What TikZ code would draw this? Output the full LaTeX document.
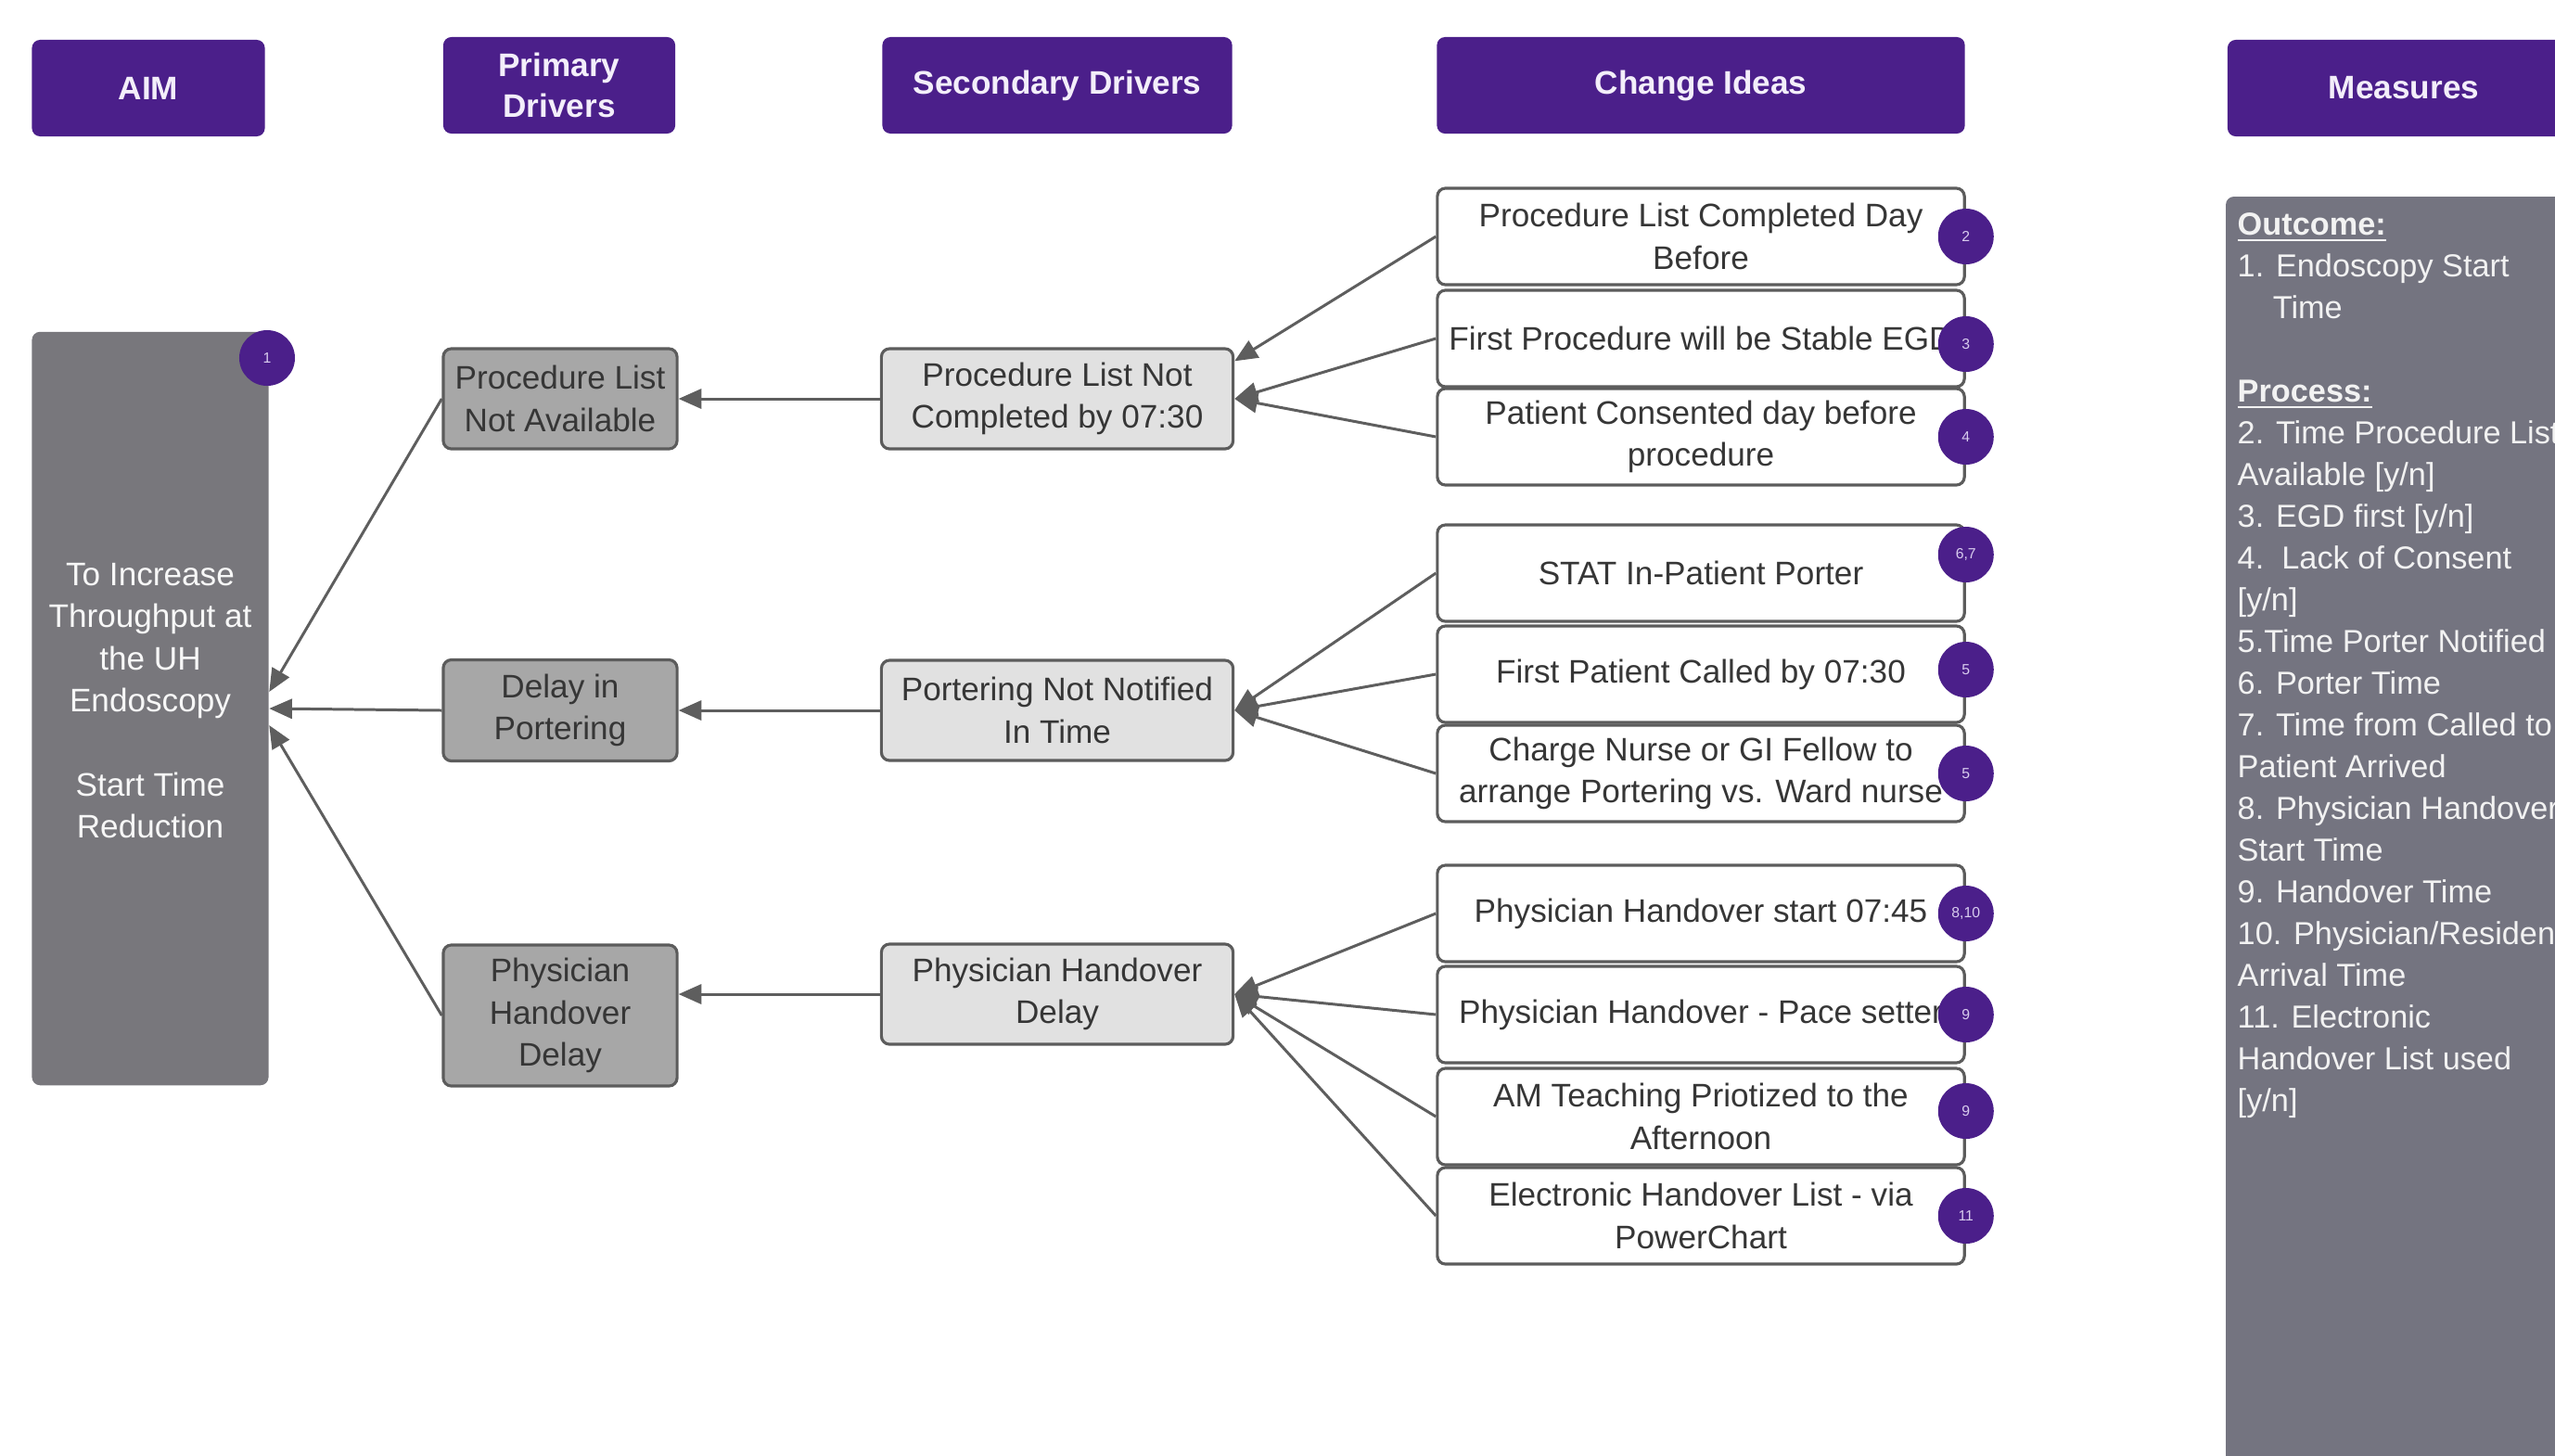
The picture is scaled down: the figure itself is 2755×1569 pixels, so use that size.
\documentclass[tikz,border=0pt]{standalone}
\usepackage{fontspec}
\setmainfont{Liberation Sans}
\usetikzlibrary{arrows.meta,calc}

\definecolor{drvpurple}{HTML}{4B1F8A}
\definecolor{headtext}{HTML}{F3EEFA}
\definecolor{aimgray}{HTML}{78777C}
\definecolor{primgray}{HTML}{A7A7A7}
\definecolor{secgray}{HTML}{E1E1E1}
\definecolor{edgegray}{HTML}{5C5C5C}
\definecolor{linkgray}{HTML}{5E5E5E}
\definecolor{boxtext}{HTML}{363636}
\definecolor{badgetext}{HTML}{D8CCEE}

\begin{document}
\begin{tikzpicture}[x=0.01cm,y=-0.01cm,
  every node/.style={font=\fontsize{10}{12.9}\selectfont,align=center,inner sep=2pt},
  header/.style={fill=drvpurple,rounded corners=2.5pt,text=headtext,font=\bfseries\fontsize{10}{12.6}\selectfont,minimum height=1.04cm},
  aimbox/.style={fill=aimgray,rounded corners=2.5pt,text=white!94!gray,minimum width=2.55cm,minimum height=8.12cm},
  primbox/.style={draw=edgegray,line width=0.9pt,fill=primgray,rounded corners=2.5pt,text=boxtext,minimum width=2.52cm},
  secbox/.style={draw=edgegray,line width=0.9pt,fill=secgray,rounded corners=2.5pt,text=boxtext,minimum width=3.79cm,minimum height=1.08cm},
  ideabox/.style={draw=edgegray,line width=0.9pt,fill=white,rounded corners=2.5pt,text=boxtext,minimum width=5.68cm,minimum height=1.04cm},
  badge/.style={circle,fill=drvpurple,text=badgetext,minimum size=0.6cm,inner sep=0pt,font=\fontsize{4.5}{5}\selectfont},
  link/.style={draw=linkgray,line width=0.85pt,-{Triangle[length=7pt,width=6pt]}}]
\useasboundingbox (0,0) rectangle (2755,1569);

% column headers
\node[header,minimum width=2.51cm] (hAim) at (160,95) {AIM};
\node[header,minimum width=2.50cm] (hPrim) at (603,92) {Primary\\Drivers};
\node[header,minimum width=3.77cm] (hSec) at (1140,92) {Secondary Drivers};
\node[header,minimum width=5.69cm] (hIdea) at (1834,92) {Change Ideas};
\node[header,minimum width=3.80cm] (hMeas) at (2592,95) {Measures};

% aim
\node[aimbox] (aim) at (162,764) {To Increase\\Throughput at\\the UH\\Endoscopy\\[12.9pt]Start Time\\Reduction\\[-8pt]};

% primary drivers
\node[primbox,minimum height=1.08cm] (p1) at (604,430) {Procedure List\\Not Available};
\node[primbox,minimum height=1.09cm] (p2) at (604,766) {Delay in\\Portering};
\node[primbox,minimum height=1.52cm] (p3) at (604,1095) {Physician\\Handover\\Delay};

% secondary drivers
\node[secbox] (s1) at (1140,430) {Procedure List Not\\Completed by 07:30};
\node[secbox] (s2) at (1140,766) {Portering Not Notified\\In Time};
\node[secbox] (s3) at (1140,1072) {Physician Handover\\Delay};

% change ideas
\node[ideabox] (c1) at (1834,255) {Procedure List Completed Day\\Before};
\node[ideabox] (c2) at (1834,365) {First Procedure will be Stable EGD};
\node[ideabox] (c3) at (1834,471) {Patient Consented day before\\procedure};
\node[ideabox] (c4) at (1834,618) {STAT In-Patient Porter};
\node[ideabox] (c5) at (1834,727) {First Patient Called by 07:30};
\node[ideabox] (c6) at (1834,834) {Charge Nurse or GI Fellow to\\arrange Portering vs. Ward nurse};
\node[ideabox] (c7) at (1834,985) {Physician Handover start 07:45};
\node[ideabox] (c8) at (1834,1094) {Physician Handover - Pace setter};
\node[ideabox] (c9) at (1834,1204) {AM Teaching Priotized to the\\Afternoon};
\node[ideabox] (c10) at (1834,1311) {Electronic Handover List - via\\PowerChart};

% measures
\fill[aimgray!97!blue,rounded corners=2.5pt] (2400,212) rectangle (2800,1620);
\node[anchor=north west,align=left,inner sep=0.1cm,text=white!90!gray,font=\fontsize{9.75}{12.8}\selectfont] (meas) at (2402,219) {%
\textbf{\underline{Outcome:}}\\
1. Endoscopy Start\\
\hphantom{1.}\ Time\\[12.8pt]
\textbf{\underline{Process:}}\\
2. Time Procedure List\\
Available [y/n]\\
3. EGD first [y/n]\\
4.\ \ Lack of Consent\\
{[y/n]}\\
5.Time Porter Notified\\
6. Porter Time\\
7. Time from Called to\\
Patient Arrived\\
8. Physician Handover\\
Start Time\\
9. Handover Time\\
10. Physician/Resident\\
Arrival Time\\
11. Electronic\\
Handover List used\\
{[y/n]}};

% measure numbers
\node[badge] (b1) at (288,386) {1};
\node[badge] (b2) at (c1.east) {2};
\node[badge] (b3) at ($(c2.east)+(0,6)$) {3};
\node[badge] (b4) at (c3.east) {4};
\node[badge] (b67) at ($(c4.east)+(0,-20)$) {6,7};
\node[badge] (b5a) at ($(c5.east)+(0,-5)$) {5};
\node[badge] (b5b) at (c6.east) {5};
\node[badge] (b810) at (c7.east) {8,10};
\node[badge] (b9a) at (c8.east) {9};
\node[badge] (b9b) at ($(c9.east)+(0,-6)$) {9};
\node[badge] (b11) at (c10.east) {11};

% change ideas -> secondary drivers
\draw[link] (c1.west) -- (s1.12);
\draw[link] (c2.west) -- (s1.east);
\draw[link] (c3.west) -- (s1.east);
\draw[link] (c4.west) -- (s2.east);
\draw[link] (c5.west) -- (s2.east);
\draw[link] (c6.west) -- (s2.east);
\draw[link] (c7.west) -- (s3.east);
\draw[link] (c8.west) -- (s3.east);
\draw[link] (c9.west) -- (s3.east);
\draw[link] (c10.west) -- (s3.east);

% secondary -> primary -> aim
\draw[link] (s1.west) -- (p1.east);
\draw[link] (s2.west) -- (p2.east);
\draw[link] (s3.west) -- (p3.east |- s3.west);
\draw[link] (p1.west) -- (aim.8);
\draw[link] (p2.west) -- (aim.east);
\draw[link] (p3.west) -- (aim.-8);
\end{tikzpicture}
\end{document}
